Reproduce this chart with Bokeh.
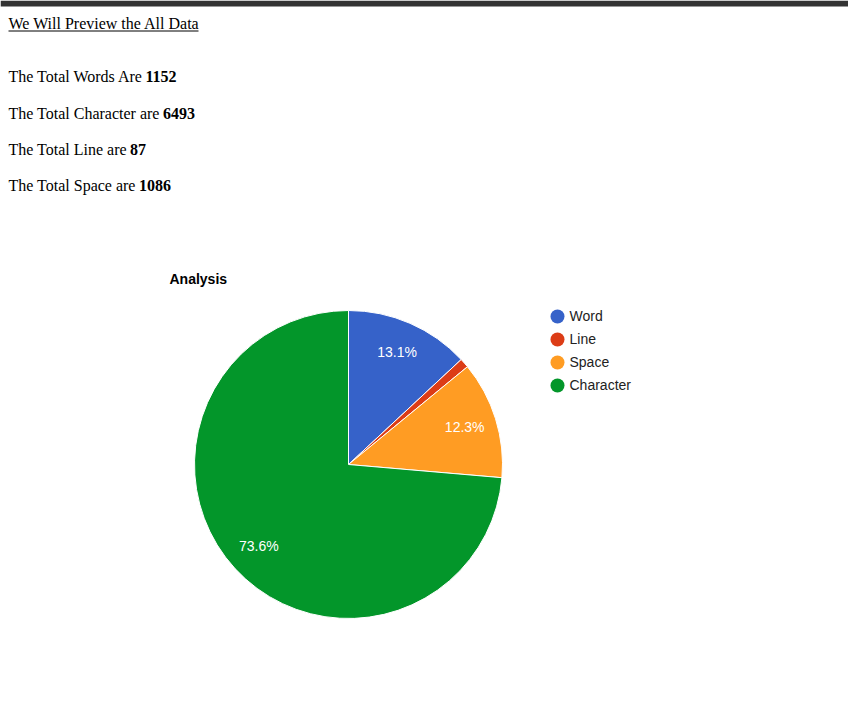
import math
from bokeh.plotting import figure
from bokeh.models import Range1d
from bokeh.core.properties import value
from bokeh.embed import file_html
from bokeh.resources import INLINE

# ---- data ----
categories = ["Word", "Line", "Space", "Character"]
values = [1152, 87, 1086, 6493]
colors = ["#3662c9", "#dc3c16", "#ff9c23", "#03962a"]

heading = "We Will Preview the All Data"
stat_labels = ["The Total Words Are", "The Total Character are", "The Total Line are", "The Total Space are"]
stat_values = [1152, 6493, 87, 1086]
chart_title = "Analysis"

W, H = 848, 726


def Y(px):
    return H - px


p = figure(width=W, height=H, output_backend="svg", toolbar_location=None,
           x_range=Range1d(0, W), y_range=Range1d(0, H), min_border=0)
p.axis.visible = False
p.grid.visible = False
p.outline_line_color = None
p.background_fill_color = "white"
p.border_fill_color = "white"

# top dark bar
p.quad(left=[0], right=[W], bottom=[Y(6)], top=[Y(0)], fill_color="#333333", line_color=None)

serif = value("Liberation Serif")
sans = value("Liberation Sans")

# heading with underline
p.text(x=[8], y=[Y(23)], text=[heading], text_font=serif, text_font_size="16px",
       text_color="black", text_baseline="alphabetic", text_align="left")
p.segment(x0=[8], y0=[Y(30.5)], x1=[198], y1=[Y(30.5)], line_color="black", line_width=1)

# stats lines
base_y = [76, 112.5, 148.5, 184.5]
bold_x = [145, 162.5, 129.5, 138.5]
p.text(x=[8] * 4, y=[Y(b) for b in base_y], text=stat_labels, text_font=serif,
       text_font_size="16px", text_color="black", text_baseline="alphabetic", text_align="left")
p.text(x=bold_x, y=[Y(b) for b in base_y], text=[str(v) for v in stat_values], text_font=serif,
       text_font_size="16px", text_font_style="bold", text_color="black",
       text_baseline="alphabetic", text_align="left")

# chart title
p.text(x=[169], y=[Y(278.5)], text=[chart_title], text_font=sans, text_font_size="14px",
       text_font_style="bold", text_color="black", text_baseline="alphabetic", text_align="left")

# pie
cx, cy, r = 348, Y(464), 154
total = sum(values)
fracs = [v / total for v in values]
cum = [0]
for f in fracs:
    cum.append(cum[-1] + f)
starts = [math.pi / 2 - cum[i + 1] * 2 * math.pi for i in range(len(values))]
ends = [math.pi / 2 - cum[i] * 2 * math.pi for i in range(len(values))]
p.wedge(x=[cx] * len(values), y=[cy] * len(values), radius=r, start_angle=starts,
        end_angle=ends, fill_color=colors, line_color="white", line_width=1)

# slice labels
lx, ly, lt = [], [], []
for i, f in enumerate(fracs):
    if f < 0.05:
        continue
    mid = math.pi / 2 - (cum[i] + f / 2) * 2 * math.pi
    lx.append(cx + 0.79 * r * math.cos(mid))
    ly.append(cy + 0.79 * r * math.sin(mid) + 1)
    lt.append(f"{f * 100:.1f}%")
p.text(x=lx, y=ly, text=lt, text_font=sans, text_font_size="14px", text_color="white",
       text_align="center", text_baseline="middle")

# legend
leg_y = [Y(315 + 23 * i) for i in range(len(categories))]
p.scatter(x=[557] * len(categories), y=[Y(316 + 23 * i) for i in range(len(categories))],
          size=14, marker="circle", fill_color=colors, line_color=None)
p.text(x=[569] * len(categories), y=leg_y, text=categories, text_font=sans,
       text_font_size="14px", text_color="#222222", text_align="left", text_baseline="middle")

open("out.html", "w").write(file_html(p, INLINE))
